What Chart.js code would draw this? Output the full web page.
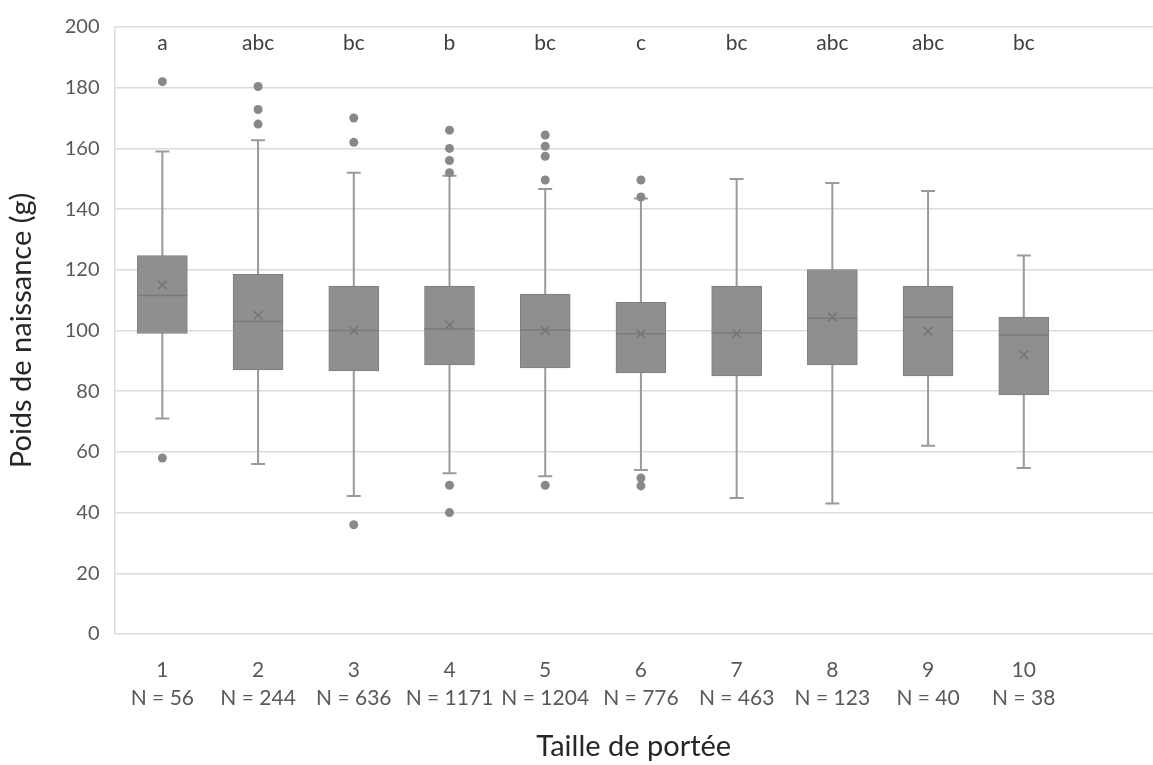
<!DOCTYPE html>
<html><head><meta charset="utf-8">
<script src="https://cdn.jsdelivr.net/npm/chart.js@4/dist/chart.umd.min.js"></script>
<style>html,body{margin:0;padding:0;background:#fff}#wrap{width:1153px;height:765px}</style>
</head><body><div id="wrap"><canvas id="c" width="1153" height="765"></canvas></div>
<script>
// ---- data ----
const categories   = ['1','2','3','4','5','6','7','8','9','10'];
const sampleSizes  = [56, 244, 636, 1171, 1204, 776, 463, 123, 40, 38];
const groupLetters = ['a','abc','bc','b','bc','c','bc','abc','abc','bc'];
const q1           = [99, 87, 86.7, 88.7, 87.7, 86, 85, 88.7, 85, 78.8];
const q3           = [124.7, 118.5, 114.6, 114.6, 112, 109.3, 114.6, 120.1, 114.6, 104.4];
const medians      = [111.5, 103, 100, 100.5, 100.2, 98.9, 99.2, 104, 104.4, 98.5];
const means        = [115, 105, 100, 101.8, 100, 98.9, 99, 104.4, 99.8, 92];
const whiskerLow   = [71, 56, 45.5, 53, 52, 54, 44.8, 43, 62, 54.7];
const whiskerHigh  = [159, 162.7, 152, 151, 146.6, 143.5, 149.9, 148.6, 146, 124.7];
const outliers     = [[182, 58], [180.4, 172.8, 168], [170, 162, 36], [166, 160, 156, 152, 49, 40],
                      [164.4, 160.7, 157.4, 149.6, 49], [149.6, 144, 51.4, 48.8], [], [], [], []];
const yTicks       = [0, 20, 40, 60, 80, 100, 120, 140, 160, 180, 200];

const FONT = 'Lato, "Liberation Sans", sans-serif';

const boxPlotPlugin = {
  id: 'boxExtras',
  beforeDatasetsDraw(chart) {
    const {ctx, scales: {x, y}} = chart;
    ctx.save();
    ctx.strokeStyle = '#9a9a9a';
    ctx.lineWidth = 2;
    categories.forEach((c, i) => {
      const px = x.getPixelForValue(i + 1);
      const lo = y.getPixelForValue(whiskerLow[i]);
      const hi = y.getPixelForValue(whiskerHigh[i]);
      ctx.beginPath();
      ctx.moveTo(px, lo); ctx.lineTo(px, hi);
      ctx.moveTo(px - 7, lo); ctx.lineTo(px + 7, lo);
      ctx.moveTo(px - 7, hi); ctx.lineTo(px + 7, hi);
      ctx.stroke();
    });
    ctx.restore();
  },
  afterDatasetDraw(chart, args) {
    if (args.index !== 0) return;
    const {ctx, scales: {x, y}} = chart;
    ctx.save();
    ctx.strokeStyle = '#7a7a7a';
    ctx.lineWidth = 1.5;
    categories.forEach((c, i) => {
      const px = x.getPixelForValue(i + 1);
      const py = y.getPixelForValue(medians[i]);
      ctx.beginPath();
      ctx.moveTo(px - 25, py); ctx.lineTo(px + 25, py);
      ctx.stroke();
    });
    ctx.restore();
  },
  afterDraw(chart) {
    const {ctx, scales: {x}, chartArea} = chart;
    ctx.save();
    ctx.fillStyle = '#404040';
    ctx.font = '21px ' + FONT;
    ctx.textAlign = 'center';
    ctx.textBaseline = 'middle';
    groupLetters.forEach((t, i) => {
      ctx.fillText(t, x.getPixelForValue(i + 1), chartArea.top + 16);
    });
    ctx.restore();
  }
};

new Chart(document.getElementById('c'), {
  type: 'bar',
  data: {
    datasets: [
      {
        type: 'bar',
        data: categories.map((c, i) => ({x: i + 1, y: [q1[i], q3[i]]})),
        backgroundColor: '#8f8f8f',
        borderColor: '#7f7f7f',
        borderWidth: 1,
        borderSkipped: false,
        barThickness: 50,
        grouped: false,
        order: 3
      },
      {
        type: 'line',
        showLine: false,
        data: categories.map((c, i) => ({x: i + 1, y: means[i]})),
        pointStyle: 'crossRot',
        pointRadius: 6,
        pointBorderColor: '#747474',
        pointBackgroundColor: '#747474',
        pointBorderWidth: 1.5,
        order: 1
      },
      {
        type: 'line',
        showLine: false,
        data: outliers.flatMap((arr, i) => arr.map(v => ({x: i + 1, y: v}))),
        pointStyle: 'circle',
        pointRadius: 4.5,
        pointBackgroundColor: '#888888',
        pointBorderColor: '#888888',
        pointBorderWidth: 0,
        order: 2
      }
    ]
  },
  options: {
    responsive: false,
    devicePixelRatio: 1,
    animation: false,
    layout: {autoPadding: false, padding: {top: 23, right: 0, left: 0, bottom: 0}},
    plugins: {legend: {display: false}, tooltip: {enabled: false}},
    scales: {
      x: {
        type: 'linear',
        offset: false,
        min: 0.5,
        max: 11.35,
        afterBuildTicks(scale) { scale.ticks = categories.map((c, i) => ({value: i + 1})); },
        afterFit(scale) { scale.height = 131; },
        grid: {display: false, drawTicks: false},
        border: {display: false},
        ticks: {
          autoSkip: false,
          maxRotation: 0,
          padding: 22,
          color: '#595959',
          font: {family: FONT, size: 21, lineHeight: 1.333},
          callback(value) {
            const i = Math.round(value) - 1;
            return [categories[i], 'N = ' + sampleSizes[i]];
          }
        },
        title: {
          display: true,
          text: 'Taille de portée',
          color: '#262626',
          font: {family: FONT, size: 29},
          padding: {top: 0, bottom: 1}
        }
      },
      y: {
        min: 0,
        max: 200,
        afterBuildTicks(scale) { scale.ticks = yTicks.map(v => ({value: v})); },
        afterFit(scale) { scale.width = 114.5; },
        grid: {color: '#dcdcdc', lineWidth: 1.5, drawTicks: false},
        border: {display: true, color: '#dcdcdc', width: 1.5},
        ticks: {
          padding: 15,
          color: '#595959',
          font: {family: FONT, size: 20}
        },
        title: {
          display: true,
          text: 'Poids de naissance (g)',
          color: '#262626',
          font: {family: FONT, size: 29},
          padding: {top: 4.5, bottom: 0}
        }
      }
    }
  },
  plugins: [boxPlotPlugin]
});
</script>
</body></html>
